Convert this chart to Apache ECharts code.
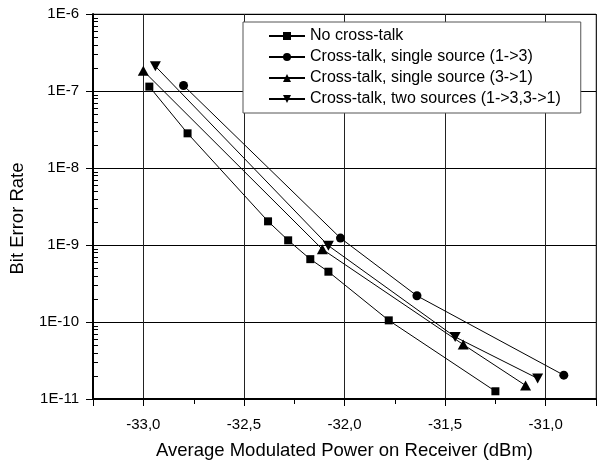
<!DOCTYPE html>
<html><head><meta charset="utf-8">
<script src="https://cdn.jsdelivr.net/npm/echarts@6/dist/echarts.min.js"></script>
<style>html,body{margin:0;padding:0;background:#fff}#c{width:599px;height:465px}</style>
</head><body><div id="c"></div>
<script>
// Data
var seriesNames = ['No cross-talk', 'Cross-talk, single source (1->3)', 'Cross-talk, single source (3->1)', 'Cross-talk, two sources (1->3,3->1)'];
var powerNoXT = [-32.97, -32.78, -32.38, -32.28, -32.17, -32.08, -31.78, -31.25];
var berNoXT   = [1.14e-7, 2.82e-8, 2.03e-9, 1.15e-9, 6.55e-10, 4.5e-10, 1.05e-10, 1.26e-11];
var power13 = [-32.80, -32.02, -31.64, -30.91];
var ber13   = [1.18e-7, 1.23e-9, 2.19e-10, 2.04e-11];
var power31 = [-33.00, -32.11, -31.41, -31.10];
var ber31   = [1.83e-7, 8.8e-10, 5.1e-11, 1.5e-11];
var powerTwo = [-32.94, -32.08, -31.45, -31.04];
var berTwo   = [2.1e-7, 9.8e-10, 6.4e-11, 1.85e-11];
var xMinorTicks = [-32.75, -32.25, -31.75, -31.25];
var yDecades = [-11, -10, -9, -8, -7];
var yMinorMult = [2, 3, 4, 5, 6, 7, 8, 9];

function pairs(xs, ys) { return xs.map(function (x, i) { return [x, ys[i]]; }); }

var FONT = 'Liberation Sans, Arial, sans-serif';
var downTri = 'path://M0,0 L10,0 L5,9 Z';
var upTri = 'path://M5,0 L10,9 L0,9 Z';
var symbols = ['rect', 'circle', upTri, downTri];
var sizes = [8, 9, [11, 10], [11, 10]];
var datasets = [pairs(powerNoXT, berNoXT), pairs(power13, ber13), pairs(power31, ber31), pairs(powerTwo, berTwo)];

var chart = echarts.init(document.getElementById('c'), null, {renderer: 'canvas'});
var option = {
  animation: false,
  backgroundColor: '#fff',
  textStyle: {fontFamily: FONT},
  grid: {left: 92, right: -2, top: 14, bottom: 61, show: true, borderColor: '#888', borderWidth: 1, containLabel: false},
  legend: {
    orient: 'vertical', left: 243, top: 22,
    itemWidth: 36, itemHeight: 10, itemGap: 5,
    padding: [6, 20, 6, 25],
    backgroundColor: '#fff', borderColor: '#555', borderWidth: 1,
    textStyle: {fontFamily: FONT, fontSize: 16, color: '#000'},
    data: seriesNames
  },
  xAxis: {
    type: 'value', min: -33.25, max: -30.75,
    name: 'Average Modulated Power on Receiver (dBm)', nameLocation: 'middle', nameGap: 42,
    nameTextStyle: {fontFamily: FONT, fontSize: 18.5, color: '#000'},
    axisLine: {show: true, onZero: false, lineStyle: {color: '#000', width: 2}},
    axisTick: {show: true, inside: false, length: 7, lineStyle: {color: '#000', width: 1}},
    axisLabel: {fontFamily: FONT, fontSize: 15, color: '#000', margin: 18,
      formatter: function (v) {
        if (Math.abs(v * 2 - Math.round(v * 2)) > 1e-6) return '';
        return v.toFixed(1).replace('.', ',');
      }},
    splitLine: {show: true, lineStyle: {color: '#222', width: 1}}
  },
  yAxis: {
    type: 'log', logBase: 10, min: 1e-11, max: 1e-6,
    name: 'Bit Error Rate', nameLocation: 'middle', nameGap: 66,
    nameTextStyle: {fontFamily: FONT, fontSize: 18.5, color: '#000', padding: [0, 24, 0, 0]},
    axisLine: {show: true, onZero: false, lineStyle: {color: '#000', width: 2}},
    axisTick: {show: true, inside: false, length: 7, lineStyle: {color: '#000', width: 1}},
    axisLabel: {fontFamily: FONT, fontSize: 15, color: '#000', margin: 14,
      formatter: function (v) { return '1E' + Math.round(Math.log10(v)); }},
    splitLine: {show: true, lineStyle: {color: ['#000', '#000', '#000', '#000', '#000', '#888'], width: 1}}
  },
  series: seriesNames.map(function (n, i) {
    return {
      name: n, type: 'line', data: datasets[i],
      symbol: symbols[i], symbolSize: sizes[i], showSymbol: true,
      lineStyle: {color: '#000', width: 1},
      itemStyle: {color: '#000', borderWidth: 0},
      emphasis: {disabled: true}, z: 3
    };
  })
};
chart.setOption(option);

// minor tick marks (log minor ticks on y, half-step ticks on x)
var g = [];
var org = chart.convertToPixel({gridIndex: 0}, [-33.25, 1e-11]);
yDecades.forEach(function (d) {
  yMinorMult.forEach(function (m) {
    var p = chart.convertToPixel({gridIndex: 0}, [-33.25, m * Math.pow(10, d)]);
    g.push({type: 'line', shape: {x1: org[0], y1: Math.round(p[1]) + 0.5, x2: org[0] + 5, y2: Math.round(p[1]) + 0.5},
      style: {stroke: '#000', lineWidth: 1}, z: 10});
  });
});
xMinorTicks.forEach(function (x) {
  var p = chart.convertToPixel({gridIndex: 0}, [x, 1e-11]);
  g.push({type: 'line', shape: {x1: Math.round(p[0]) + 0.5, y1: org[1], x2: Math.round(p[0]) + 0.5, y2: org[1] + 5},
    style: {stroke: '#000', lineWidth: 1}, z: 10});
});
chart.setOption({graphic: {elements: g}});
</script></body></html>
